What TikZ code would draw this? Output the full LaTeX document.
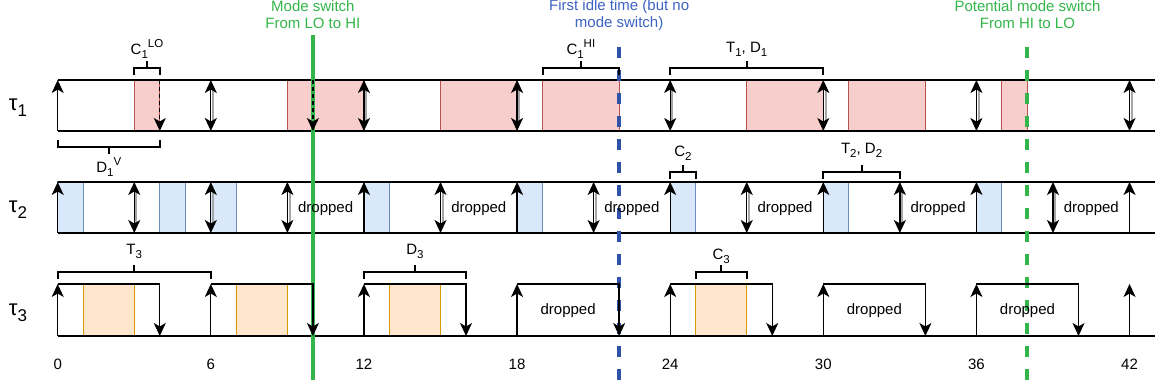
\documentclass[tikz,border=0pt]{standalone}
\usepackage{fontspec}
\setmainfont{Liberation Sans}
\usetikzlibrary{arrows.meta}
\definecolor{redf}{HTML}{F8CECC}
\definecolor{redd}{HTML}{B85450}
\definecolor{bluef}{HTML}{DAE8FC}
\definecolor{blued}{HTML}{6C8EBF}
\definecolor{orf}{HTML}{FFE6CC}
\definecolor{ord}{HTML}{D79B00}
\definecolor{mgreen}{HTML}{33B54A}
\definecolor{mblue}{HTML}{2D52A8}
\definecolor{tblue}{HTML}{3D62C4}
\def\Tz{57.7}
\def\Tu{25.52}
\newcommand\Sb[1]{\raisebox{-0.28em}{\fontsize{11.5}{11.5}\selectfont #1}}
\newcommand\Sp[1]{\raisebox{0.5em}{\fontsize{11.5}{11.5}\selectfont #1}}
\newcommand\DblA[3]{%
  \draw[line width=2pt, gray!70] ({\Tz+\Tu*(#1)+2.2},#2+9) -- ({\Tz+\Tu*(#1)+2.2},#3-9);
  \draw[line width=1.3pt, {Stealth[length=13pt,width=12pt,inset=3.5pt]}-{Stealth[length=13pt,width=12pt,inset=3.5pt]}] ({\Tz+\Tu*(#1)},#2) -- ({\Tz+\Tu*(#1)},#3);}
\newcommand\UpA[3]{%
  \draw[arr] ({\Tz+\Tu*(#1)},#3) -- ({\Tz+\Tu*(#1)},#2);}
\newcommand\BrDn[6]{% t1 t2 y name label labely
  \draw[brk] ({\Tz+\Tu*(#1)},#3+6) -- ({\Tz+\Tu*(#1)},#3) -- ({\Tz+\Tu*(#2)},#3) -- ({\Tz+\Tu*(#2)},#3+6);
  \draw[brk] ({\Tz+\Tu*((#1+#2)/2)},#3) -- ++(0,-6);
  \node[lbl] (#4) at ({\Tz+\Tu*((#1+#2)/2)},#6) {#5};}
\newcommand\BrUp[6]{% t1 t2 y name label labely
  \draw[brk] ({\Tz+\Tu*(#1)},#3-6) -- ({\Tz+\Tu*(#1)},#3) -- ({\Tz+\Tu*(#2)},#3) -- ({\Tz+\Tu*(#2)},#3-6);
  \draw[brk] ({\Tz+\Tu*((#1+#2)/2)},#3) -- ++(0,6);
  \node[lbl] (#4) at ({\Tz+\Tu*((#1+#2)/2)},#6) {#5};}
\begin{document}
\begin{tikzpicture}[x=1pt,y=-1pt,
  row/.style={line width=1.3pt, black},
  arr/.style={line width=1.3pt, -{Stealth[length=13pt,width=12pt,inset=3.5pt]}},
  brk/.style={line width=2pt, line cap=rect},
  lbl/.style={font=\fontsize{15}{17}\selectfont, inner sep=0pt, align=center},
  taul/.style={font=\fontsize{22}{24}\selectfont, inner sep=0pt},
  rbox/.style={fill=redf, draw=redd, line width=1pt},
  bbox/.style={fill=bluef, draw=blued, line width=1pt},
  obox/.style={fill=orf, draw=ord, line width=1pt}]
\useasboundingbox (0,0) rectangle (1156,387);
% execution boxes
\foreach \a/\b in {3/4,9/12,15/18,19/22,27/30,31/34,37/38}
  \draw[rbox] ({\Tz+\Tu*\a},80) rectangle ({\Tz+\Tu*\b},131);
\foreach \a/\b in {0/1,4/5,6/7,12/13,18/19,24/25,30/31,36/37}
  \draw[bbox] ({\Tz+\Tu*\a},182) rectangle ({\Tz+\Tu*\b},233);
\foreach \a/\b in {1/3,7/9,13/15,25/27}
  \draw[obox] ({\Tz+\Tu*\a},284) rectangle ({\Tz+\Tu*\b},336);
% row lines
\draw[row] (\Tz,80) -- (1155,80);
\draw[row] (\Tz,131) -- (1155,131);
\draw[row] (\Tz,182) -- (1155,182);
\draw[row] (\Tz,233) -- (1155,233);
\draw[row] (\Tz,336) -- (1155,336);
% mode lines
\draw[line width=4pt, mgreen] ({\Tz+\Tu*10},35) -- ({\Tz+\Tu*10},380);
\draw[line width=4pt, mblue, dash pattern=on 11pt off 12pt] ({\Tz+\Tu*22},47) -- ({\Tz+\Tu*22},387);
\draw[line width=4pt, mgreen, dash pattern=on 11pt off 12pt] ({\Tz+\Tu*38},47) -- ({\Tz+\Tu*38},380);
\node[lbl, text=mgreen] (ms1) at ({\Tz+\Tu*10},15) {Mode switch\\From LO to HI};
\node[lbl, text=tblue] (idle) at ({\Tz+\Tu*22},15) {First idle time (but no\\mode switch)};
\node[lbl, text=mgreen] (ms2) at ({\Tz+\Tu*38},15) {Potential mode switch\\From HI to LO};
% tau 1
\UpA{0}{80}{131}
\foreach \t in {4,10}
  \draw[arr, dash pattern=on 4pt off 3pt] ({\Tz+\Tu*\t},80) -- ({\Tz+\Tu*\t},131);
\foreach \t in {6,12,18,24,30,36,42} {\DblA{\t}{80}{131}}
% tau 2
\foreach \t in {0,12,18,24,30,36,42} {\UpA{\t}{182}{233}}
\foreach \t in {3,6,9,15,21,27,33,39} {\DblA{\t}{182}{233}}
\foreach \t [count=\i] in {10.5,16.5,22.5,28.5,34.5,40.5}
  \node[lbl] (dr2\i) at ({\Tz+\Tu*\t},209) {dropped};
% tau 3
\foreach \r/\d in {0/4,6/10,12/16,18/22,24/28,30/34,36/40} {
  \draw[arr] ({\Tz+\Tu*\r},336) -- ({\Tz+\Tu*\r},284);
  \draw[arr] ({\Tz+\Tu*\r},284) -- ({\Tz+\Tu*\d},284) -- ({\Tz+\Tu*\d},336);
}
\UpA{42}{284}{336}
\foreach \t [count=\i] in {20,32,38}
  \node[lbl] (dr3\i) at ({\Tz+\Tu*\t},311) {dropped};
% brackets
\BrDn{3}{4}{68}{c1lo}{C\Sb{1}\Sp{LO}}{49}
\BrDn{19}{22}{68}{c1hi}{C\Sb{1}\Sp{HI}}{49}
\BrDn{24}{30}{68}{t1d1}{T\Sb{1}, D\Sb{1}}{49}
\BrUp{0}{4}{147}{d1v}{D\Sb{1}\Sp{V}}{167}
\BrDn{24}{25}{172}{c2}{C\Sb{2}}{153}
\BrDn{30}{33}{172}{t2d2}{T\Sb{2}, D\Sb{2}}{150}
\BrDn{0}{6}{272}{t3}{T\Sb{3}}{251}
\BrDn{12}{16}{272}{d3}{D\Sb{3}}{251}
\BrDn{25}{27}{272}{c3}{C\Sb{3}}{256}
% row labels
\node[taul] (tau1) at (18,108) {τ\Sb{\fontsize{17}{17}\selectfont 1}};
\node[taul] (tau2) at (18,210) {τ\Sb{\fontsize{17}{17}\selectfont 2}};
\node[taul] (tau3) at (18,313) {τ\Sb{\fontsize{17}{17}\selectfont 3}};
% time axis
\foreach \t in {0,6,...,42}
  \node[lbl] (n\t) at ({\Tz+\Tu*\t},364) {\t};
\end{tikzpicture}
\end{document}
